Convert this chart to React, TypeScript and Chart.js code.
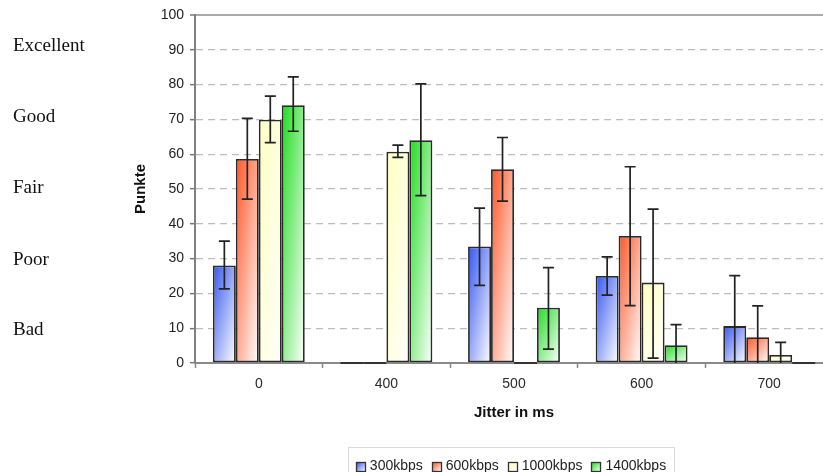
import React, { useEffect, useRef } from "react";
import { Chart, registerables } from "chart.js";

Chart.register(...registerables);

// ---------- data ----------
const categories = ["0", "400", "500", "600", "700"];
const seriesLabels = ["300kbps", "600kbps", "1000kbps", "1400kbps"];

const kbps300 = [28.0, 0, 33.5, 25.0, 10.6];
const kbps600 = [58.6, 0, 55.7, 36.5, 7.4];
const kbps1000 = [69.9, 60.7, 0, 23.1, 2.3];
const kbps1400 = [74.1, 64.0, 15.9, 5.1, 0];

const err300Low = [21.3, null, 22.3, 19.5, 0];
const err300High = [35.0, null, 44.5, 30.5, 25.1];
const err600Low = [47.1, null, 46.5, 16.5, 0];
const err600High = [70.3, null, 64.8, 56.4, 16.4];
const err1000Low = [63.3, 59.1, null, 1.4, 0];
const err1000High = [76.7, 62.6, null, 44.2, 5.9];
const err1400Low = [66.6, 48.1, 4.0, 0, null];
const err1400High = [82.2, 80.2, 27.4, 11.0, null];

const yMin = 0;
const yMax = 100;
const yStep = 10;

const qualityLabels = ["Excellent", "Good", "Fair", "Poor", "Bad"];
const qualityLevels = [91.0, 70.7, 50.2, 29.7, 9.6];

const seriesColors = ["#3556f0", "#ff5526", "#ffffbe", "#1edc1e"];

const SANS = '"Liberation Sans", Arial, sans-serif';
const SERIF = '"Liberation Serif", "Times New Roman", serif';
const CAT_PCT = 0.72;

function diagGradient(c2d: CanvasRenderingContext2D, L: number, T: number, w: number, h: number, color: string) {
  const k = (2 * w * h) / (h * h + w * w);
  const g = c2d.createLinearGradient(L, T, L + h * k, T + w * k);
  g.addColorStop(0, color);
  g.addColorStop(1, "#ffffff");
  return g;
}

function barFill(color: string) {
  return (ctx: any) => {
    const chart = ctx.chart;
    if (!chart.chartArea || ctx.type !== "data") return color;
    const xs = chart.scales.x;
    const ys = chart.scales.y;
    const n = chart.data.datasets.length;
    const catW = (xs.right - xs.left) / chart.data.labels.length;
    const group = catW * CAT_PCT;
    const bw = group / n;
    const center = xs.getPixelForValue(ctx.dataIndex);
    const left = center - group / 2 + ctx.datasetIndex * bw;
    const top = ys.getPixelForValue(ctx.raw);
    const bottom = ys.getPixelForValue(0);
    const h = bottom - top;
    if (!(h > 0)) return color;
    return diagGradient(chart.ctx, left, top, bw, h, color);
  };
}

const errorBarsPlugin = {
  id: "errorBars",
  afterDatasetsDraw(chart: any) {
    const c2d = chart.ctx;
    const ys = chart.scales.y;
    c2d.save();
    chart.data.datasets.forEach((ds: any, di: number) => {
      const meta = chart.getDatasetMeta(di);
      meta.data.forEach((el: any, j: number) => {
        const v = ds.data[j];
        const x = el.x;
        if (v === 0) {
          const w = el.width;
          const y0 = ys.getPixelForValue(0);
          c2d.strokeStyle = "#333";
          c2d.lineWidth = 2;
          c2d.beginPath();
          c2d.moveTo(x - w / 2, y0);
          c2d.lineTo(x + w / 2, y0);
          c2d.stroke();
        }
        const lo = ds.errorLow[j];
        const hi = ds.errorHigh[j];
        if (lo == null || hi == null) return;
        const yl = ys.getPixelForValue(lo);
        const yh = ys.getPixelForValue(hi);
        c2d.strokeStyle = "#222";
        c2d.lineWidth = 1.7;
        c2d.beginPath();
        c2d.moveTo(x, yl);
        c2d.lineTo(x, yh);
        c2d.moveTo(x - 5.5, yh);
        c2d.lineTo(x + 5.5, yh);
        if (lo > 0) {
          c2d.moveTo(x - 5.5, yl);
          c2d.lineTo(x + 5.5, yl);
        }
        c2d.stroke();
      });
    });
    c2d.restore();
  },
};

const qualityPlugin = {
  id: "qualityLabels",
  afterDraw(chart: any) {
    const c2d = chart.ctx;
    const ys = chart.scales.y;
    c2d.save();
    c2d.font = `19px ${SERIF}`;
    c2d.fillStyle = "#111";
    c2d.textAlign = "left";
    c2d.textBaseline = "middle";
    qualityLabels.forEach((t, i) => {
      c2d.fillText(t, 13, ys.getPixelForValue(qualityLevels[i]));
    });
    c2d.restore();
  },
};

const legendPlugin = {
  id: "boxLegend",
  afterDraw(chart: any) {
    const c2d = chart.ctx;
    const area = chart.chartArea;
    c2d.save();
    c2d.font = `14px ${SANS}`;
    const box = 9;
    const gapText = 5;
    const gapItem = 9;
    const items = chart.data.datasets.map((d: any) => ({
      label: d.label,
      color: d.legendColor,
      w: box + gapText + c2d.measureText(d.label).width,
    }));
    const total = items.reduce((s: number, it: any) => s + it.w, 0) + gapItem * (items.length - 1);
    const cx = (area.left + area.right) / 2 - 3;
    let x = cx - total / 2;
    const yc = 466;
    c2d.strokeStyle = "#d9d9d9";
    c2d.lineWidth = 1;
    c2d.strokeRect(Math.round(x - 8) + 0.5, 447.5, Math.round(total + 16), 40);
    items.forEach((it: any) => {
      const bx = Math.round(x) + 0.5;
      const by = Math.round(yc - box / 2) + 0.5;
      c2d.fillStyle = diagGradient(c2d, bx, by, box, box, it.color);
      c2d.fillRect(bx, by, box, box);
      c2d.strokeStyle = "#333";
      c2d.lineWidth = 1.3;
      c2d.strokeRect(bx, by, box, box);
      c2d.fillStyle = "#222";
      c2d.textAlign = "left";
      c2d.textBaseline = "middle";
      c2d.fillText(it.label, x + box + gapText, yc);
      x += it.w + gapItem;
    });
    c2d.restore();
  },
};

export default function App() {
  const ref = useRef<HTMLCanvasElement | null>(null);

  useEffect(() => {
    if (!ref.current) return;
    const values = [kbps300, kbps600, kbps1000, kbps1400];
    const lows = [err300Low, err600Low, err1000Low, err1400Low];
    const highs = [err300High, err600High, err1000High, err1400High];
    const datasets = seriesLabels.map((label, i) => ({
      label,
      data: values[i],
      errorLow: lows[i],
      errorHigh: highs[i],
      legendColor: seriesColors[i],
      backgroundColor: barFill(seriesColors[i]),
      borderColor: "#2a2a2a",
      borderWidth: 1.8,
      borderSkipped: false,
      categoryPercentage: CAT_PCT,
      barPercentage: 1.0,
    }));

    const chart = new Chart(ref.current, {
      type: "bar",
      data: { labels: categories, datasets: datasets as any },
      options: {
        responsive: false,
        animation: false,
        layout: { padding: { top: 15, left: 0, right: 0, bottom: 0 } },
        plugins: {
          legend: { display: false },
          tooltip: { enabled: false },
          title: { display: false },
        },
        scales: {
          x: {
            type: "category",
            offset: true,
            grid: {
              offset: true,
              drawOnChartArea: false,
              drawTicks: true,
              tickLength: 5,
              tickColor: "#888",
              tickWidth: 1.5,
            },
            border: { color: "#8a8a8a", width: 2 },
            ticks: { color: "#2a2a2a", font: { size: 14, family: SANS }, padding: 8, maxRotation: 0 },
            title: {
              display: true,
              text: "Jitter in ms",
              color: "#111",
              font: { size: 15, weight: "bold", family: SANS },
              padding: { top: 0, bottom: 50 },
            },
            afterFit: (s: any) => {
              s.height = 109;
            },
          },
          y: {
            min: yMin,
            max: yMax,
            ticks: { stepSize: yStep, color: "#222", font: { size: 14, family: SANS }, padding: 6 },
            grid: {
              color: (c: any) =>
                c.tick && c.tick.value === yMax ? "#a9a9a9" : c.tick && c.tick.value === yMin ? "rgba(0,0,0,0)" : "#bdbdbd",
              lineWidth: (c: any) => (c.tick && c.tick.value === yMax ? 2 : 1.3),
              drawTicks: true,
              tickLength: 5,
              tickColor: "#777",
              tickWidth: 1.5,
            },
            border: {
              color: "#808080",
              width: 2,
              dash: (c: any) => (c.tick && c.tick.value === yMax ? [] : [7, 5]),
            },
            title: {
              display: true,
              text: "Punkte",
              color: "#111",
              font: { size: 15, weight: "bold", family: SANS },
              padding: { top: 132, bottom: 0 },
            },
            afterFit: (s: any) => {
              s.width = 195;
            },
          },
        },
      } as any,
      plugins: [errorBarsPlugin, qualityPlugin, legendPlugin],
    });
    return () => chart.destroy();
  }, []);

  return (
    <div
      style={{
        position: "absolute",
        left: 0,
        top: 0,
        width: 823,
        height: 472,
        overflow: "hidden",
        background: "#fff",
      }}
    >
      <canvas ref={ref} width={833} height={472} style={{ display: "block", width: 833, height: 472 }} />
    </div>
  );
}
